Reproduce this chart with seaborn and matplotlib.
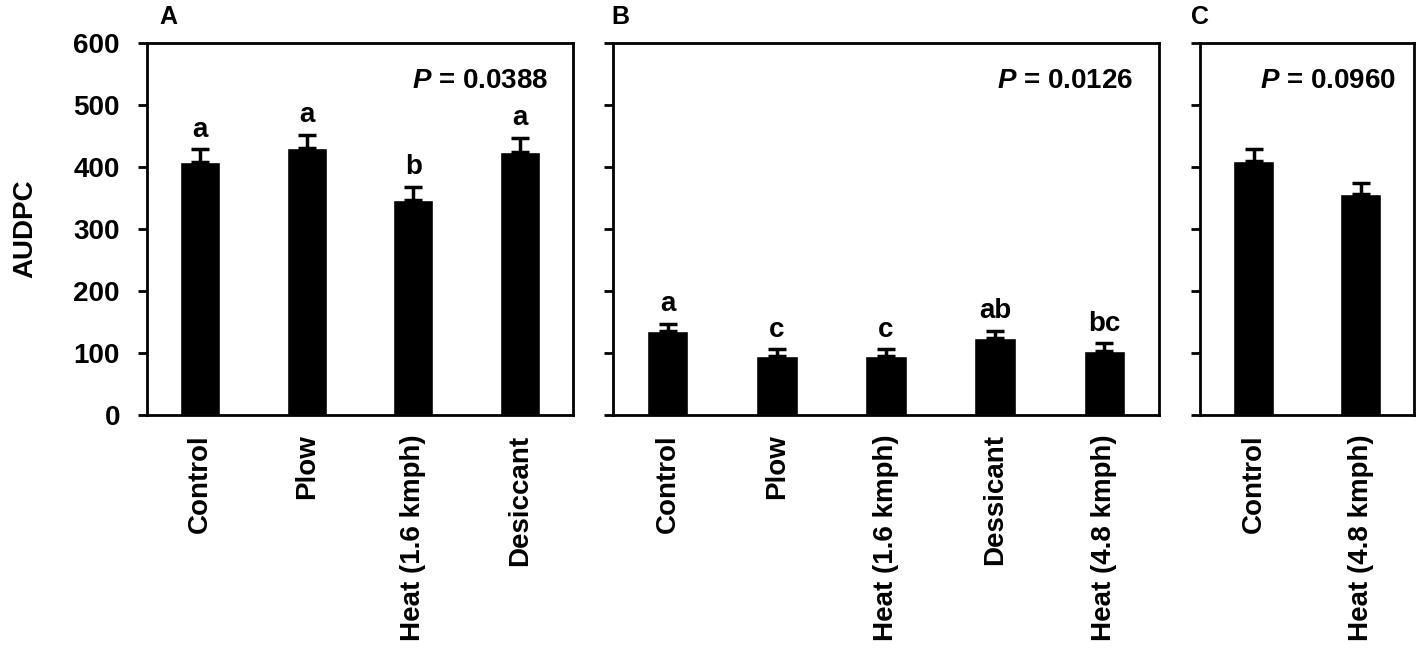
import numpy as np
import pandas as pd
import matplotlib
matplotlib.use('Agg')
import matplotlib.pyplot as plt
import seaborn as sns

# panel A
cats_a = ['Control', 'Plow', 'Heat (1.6 kmph)', 'Desiccant']
mean_a = [408, 431, 347, 425]
se_a = [21, 21, 21, 22]
letters_a = ['a', 'a', 'b', 'a']
p_a = '0.0388'

# panel B
cats_b = ['Control', 'Plow', 'Heat (1.6 kmph)', 'Dessicant', 'Heat (4.8 kmph)']
mean_b = [135, 95, 95, 125, 104]
se_b = [12, 11, 11, 11, 11.5]
letters_b = ['a', 'c', 'c', 'ab', 'bc']
p_b = '0.0126'

# panel C
cats_c = ['Control', 'Heat (4.8 kmph)']
mean_c = [410, 357]
se_c = [18.5, 17]
letters_c = ['', '']
p_c = '0.0960'

yticks = [0, 100, 200, 300, 400, 500, 600]

sns.set_style('ticks')
plt.rcParams['font.family'] = ['Liberation Sans', 'DejaVu Sans']
plt.rcParams['font.weight'] = 'bold'
plt.rcParams['text.color'] = 'black'
plt.rcParams['xtick.color'] = 'black'
plt.rcParams['ytick.color'] = 'black'
plt.rcParams['mathtext.fontset'] = 'custom'
plt.rcParams['mathtext.it'] = 'Liberation Sans:italic:bold'
plt.rcParams['mathtext.rm'] = 'Liberation Sans:bold'

W, H = 1417, 656
fig = plt.figure(figsize=(W / 100, H / 100), dpi=100)

def px_axes(left, right, top=43, bottom=415):
    return fig.add_axes([left / W, 1 - bottom / H, (right - left) / W, (bottom - top) / H])

ax_a = px_axes(147, 573)
ax_b = px_axes(613, 1159)
ax_c = px_axes(1200, 1414)

panels = [
    (ax_a, cats_a, mean_a, se_a, letters_a, p_a, 0.941, True),
    (ax_b, cats_b, mean_b, se_b, letters_b, p_b, 0.952, False),
    (ax_c, cats_c, mean_c, se_c, letters_c, p_c, 0.915, False),
]

for ax, cats, means, ses, letters, pval, px, show_y in panels:
    df = pd.DataFrame({'treatment': cats, 'AUDPC': means})
    sns.barplot(data=df, x='treatment', y='AUDPC', color='black', width=0.38,
                errorbar=None, ax=ax, saturation=1)
    xs = np.arange(len(cats))
    ax.errorbar(xs, means, yerr=[np.zeros(len(ses)), ses], fmt='none',
                ecolor='black', elinewidth=2.5, capsize=6.5, capthick=2.5)
    for x, m, s, lab in zip(xs, means, ses, letters):
        if lab:
            ax.text(x, m + s + 20, lab, ha='center', va='baseline',
                    fontsize=20, fontweight='bold')
    ax.text(px, 0.879, '$P$ = ' + pval, transform=ax.transAxes,
            ha='right', va='baseline', fontsize=20, fontweight='bold')
    ax.set_xlim(-0.5, len(cats) - 0.5)
    ax.set_ylim(0, 600)
    ax.set_yticks(yticks)
    ax.set_xlabel('')
    ax.set_ylabel('')
    ax.set_xticks(xs)
    ax.set_xticklabels(cats, rotation=90, fontsize=20, fontweight='bold')
    ax.tick_params(axis='x', length=0, pad=14)
    ax.tick_params(axis='y', length=6.5, width=2, direction='out', pad=13,
                   labelsize=20)
    if not show_y:
        ax.set_yticklabels([])
    else:
        for t in ax.get_yticklabels():
            t.set_fontweight('bold')
    for sp in ax.spines.values():
        sp.set_visible(True)
        sp.set_linewidth(2)
        sp.set_color('black')

fig.text(25 / W, 1 - 229 / H, 'AUDPC', rotation=90, ha='center', va='center',
         fontsize=20, fontweight='bold')
fig.text(159 / W, 1 - 5 / H, 'A', ha='left', va='top', fontsize=18, fontweight='bold')
fig.text(611 / W, 1 - 5 / H, 'B', ha='left', va='top', fontsize=18, fontweight='bold')
fig.text(1191 / W, 1 - 5 / H, 'C', ha='left', va='top', fontsize=18, fontweight='bold')

fig.savefig('out.png', dpi=100)
